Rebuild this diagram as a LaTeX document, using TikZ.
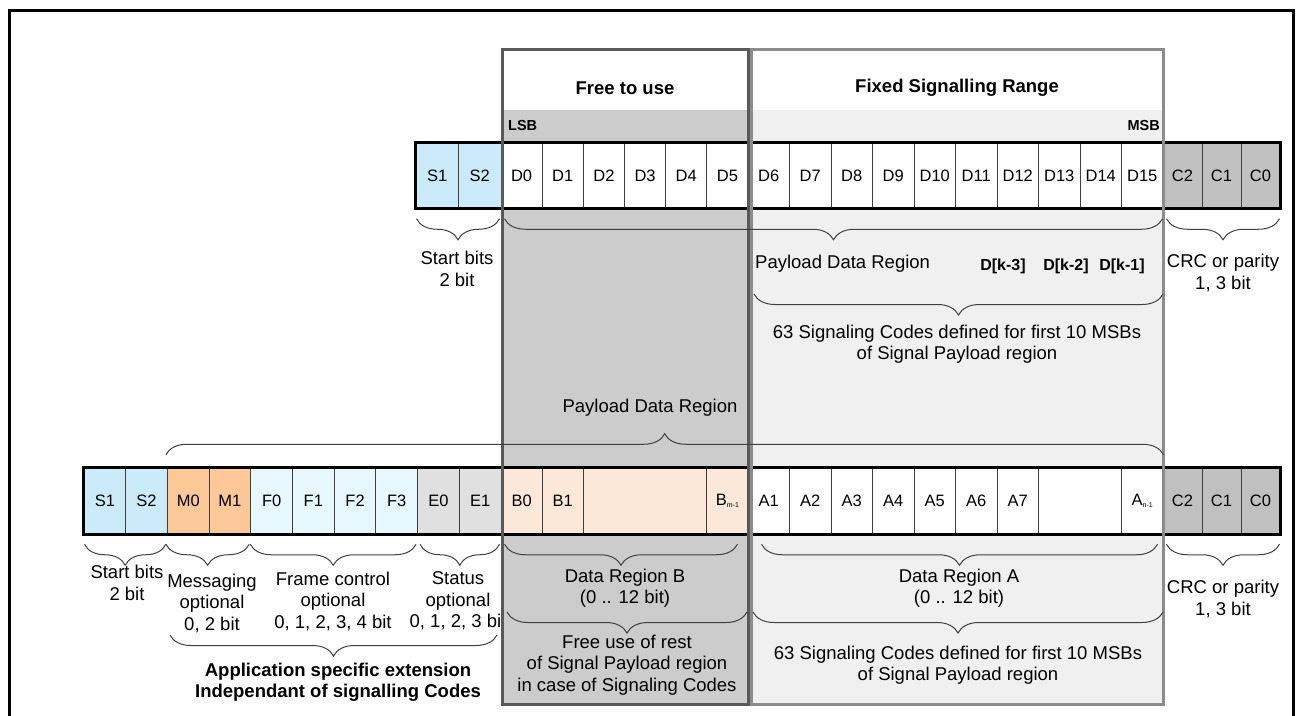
\documentclass[tikz,border=0pt]{standalone}
\usepackage{fontspec}
\setmainfont{Liberation Sans}
\usepackage{xcolor}
\usetikzlibrary{calc,decorations.pathreplacing}
\definecolor{startbg}{HTML}{CCEBFA}
\definecolor{msgbg}{HTML}{FCC897}
\definecolor{framebg}{HTML}{E6F7FD}
\definecolor{statbg}{HTML}{E0E0E0}
\definecolor{regbbg}{HTML}{FCE8D8}
\definecolor{crcbg}{HTML}{C0C0C0}
\definecolor{freebg}{HTML}{CCCCCC}
\definecolor{fixbg}{HTML}{F0F0F0}
\definecolor{freeline}{HTML}{595959}
\definecolor{fixline}{HTML}{8C8C8C}
\definecolor{cellline}{HTML}{404040}
\tikzset{
  cell/.style={draw=cellline, line width=1pt, minimum height=65.5pt, inner sep=0pt, font=\fontsize{16.5}{16.5}\selectfont},
  rowframe/.style={draw=black, line width=3pt},
  boxline/.style={line width=3pt},
  brc/.style={draw=cellline, line width=1pt, decorate, decoration={brace, amplitude=21pt, mirror}},
  brcup/.style={draw=cellline, line width=1pt, decorate, decoration={brace, amplitude=21pt}},
  lab/.style={font=\fontsize{18.5}{21.5}\selectfont, align=center, inner sep=0pt},
  labb/.style={lab, font=\fontsize{18.5}{21.5}\selectfont\bfseries},
  title/.style={font=\fontsize{18.5}{18.5}\selectfont\bfseries, inner sep=0pt},
  tag/.style={font=\fontsize{14.5}{14.5}\selectfont\bfseries, inner sep=0pt},
  ktag/.style={font=\fontsize{16}{16}\selectfont\bfseries, inner sep=0pt},
}
\newcommand{\subidx}[1]{\raisebox{-2pt}{\fontsize{7}{7}\selectfont #1}}

\begin{document}
\begin{tikzpicture}[x=1pt,y=-1pt]
  \useasboundingbox (0,0) rectangle (1300,715);
  \def\ya{175.5}
  \def\yb{501}

  % outer frame, open at the bottom
  \draw[line width=3pt] (9,716) -- (9,10) -- (1293,10) -- (1293,716);

  % status text, its end hidden by the free box
  \node[lab] (r2stattxt) at (458,601) {Status\\optional\\0, 1, 2, 3 bit};

  % the two ranges
  \fill[freebg] (502,110) rectangle (748,704);
  \fill[fixbg] (751,110) rectangle (1163,704);
  \node[title] (freettl) at (625,88) {Free to use};
  \node[title] (fixttl) at (957,88) {Fixed Signalling Range};
  \node[tag, anchor=west] (lsb) at (508,126) {LSB};
  \node[tag, anchor=east] (msb) at (1160,126) {MSB};

  % frame with signalling codes
  \foreach \n [count=\i from 0] in {S1,S2}
    \node[cell, fill=startbg, minimum width=42.5pt] (r1\n) at ({416+42.5*(\i+0.5)},\ya) {\n};
  \foreach \i in {0,...,5}
    \node[cell, fill=white, minimum width=41.17pt] (r1D\i) at ({501+41.17*(\i+0.5)},\ya) {D\i};
  \foreach \i in {6,...,15}
    \node[cell, fill=white, minimum width=41.5pt] (r1D\i) at ({748+41.5*(\i-5.5)},\ya) {D\i};
  \foreach \n [count=\i from 0] in {C2,C1,C0}
    \node[cell, fill=crcbg, minimum width=39pt] (r1\n) at ({1163+39*(\i+0.5)},\ya) {\n};
  \draw[rowframe] (r1S1.north west) rectangle (r1C0.south east);

  % frame with application extension
  \foreach \n/\c [count=\i from 0] in {S1/startbg,S2/startbg,M0/msgbg,M1/msgbg,F0/framebg,F1/framebg,F2/framebg,F3/framebg,E0/statbg,E1/statbg}
    \node[cell, fill=\c, minimum width=41.7pt] (r2\n) at ({84+41.7*(\i+0.5)},\yb) {\n};
  \node[cell, fill=regbbg, minimum width=41.17pt] (r2B0) at (521.6,\yb) {B0};
  \node[cell, fill=regbbg, minimum width=41.17pt] (r2B1) at (562.8,\yb) {B1};
  \node[cell, fill=regbbg, minimum width=123.5pt] (r2Bx) at (645.1,\yb) {};
  \node[cell, fill=regbbg, minimum width=41.17pt] (r2Bm) at (727.4,\yb) {B\subidx{m-1}};
  \foreach \i in {1,...,7}
    \node[cell, fill=white, minimum width=41.5pt] (r2A\i) at ({748+41.5*(\i-0.5)},\yb) {A\i};
  \node[cell, fill=white, minimum width=83pt] (r2Ax) at (1080,\yb) {};
  \node[cell, fill=white, minimum width=41.5pt] (r2An) at (1142.25,\yb) {A\subidx{n-1}};
  \foreach \n [count=\i from 0] in {C2,C1,C0}
    \node[cell, fill=crcbg, minimum width=39pt] (r2\n) at ({1163+39*(\i+0.5)},\yb) {\n};
  \draw[rowframe] (r2S1.north west) rectangle (r2C0.south east);

  % range borders over the frames
  \draw[boxline, draw=freeline] (502,49) rectangle (748,704);
  \draw[boxline, draw=fixline] (751,49) rectangle (1163,704);

  % braces of the upper frame
  \draw[brc] ([xshift=1pt,yshift=-10pt]r1S1.south west) -- ([xshift=-2pt,yshift=-10pt]r1S2.south east);
  \draw[brc] ([xshift=4pt,yshift=-10pt]r1D0.south west) -- ([xshift=-1pt,yshift=-10pt]r1D15.south east);
  \draw[brc] ([xshift=4pt,yshift=-10pt]r1C2.south west) -- ([xshift=-1pt,yshift=-10pt]r1C0.south east);
  \coordinate (sigL) at (754,294);
  \coordinate (sigR) at (1163,294);
  \draw[brc] (sigL) -- (sigR);

  \node[lab] (r1starttxt) at (457,269) {Start bits\\2 bit};
  \node[lab, anchor=west] (r1paytxt) at (755,264) {Payload Data Region};
  \node[ktag] (dk3) at (1003,266) {D[k-3]};
  \node[ktag] (dk2) at (1066,266) {D[k-2]};
  \node[ktag] (dk1) at (1122,266) {D[k-1]};
  \node[lab] (r1crctxt) at (1223,273) {CRC or parity\\1, 3 bit};
  \node[lab] (r1sigtxt) at (957,344) {63 Signaling Codes defined for first 10 MSBs\\of Signal Payload region};

  % payload brace above the lower frame
  \draw[brcup] ([xshift=-1pt,yshift=13pt]r2M0.north west) -- ([yshift=13pt]r2An.north east);
  \node[lab] (r2paytxt) at (650,408) {Payload Data Region};

  % braces of the lower frame
  \draw[brc] ([xshift=1pt,yshift=-10pt]r2S1.south west) -- ([xshift=-2pt,yshift=-10pt]r2S2.south east);
  \draw[brc] ([xshift=-1pt,yshift=-10pt]r2M0.south west) -- ([xshift=-2pt,yshift=-10pt]r2M1.south east);
  \draw[brc] ([xshift=0pt,yshift=-10pt]r2F0.south west) -- ([xshift=-2pt,yshift=-10pt]r2F3.south east);
  \draw[brc] ([xshift=3pt,yshift=-10pt]r2E0.south west) -- ([xshift=-2pt,yshift=-10pt]r2E1.south east);
  \draw[brc] ([xshift=4pt,yshift=-10pt]r2B0.south west) -- ([xshift=-11pt,yshift=-10pt]r2Bm.south east);
  \draw[brc] ([xshift=14pt,yshift=-10pt]r2A1.south west) -- ([xshift=-6pt,yshift=-10pt]r2An.south east);
  \draw[brc] ([xshift=4pt,yshift=-10pt]r2C2.south west) -- ([xshift=-1pt,yshift=-10pt]r2C0.south east);
  \coordinate (appL) at (170,635);
  \coordinate (appR) at (497,635);
  \coordinate (freeL) at (507,612);
  \coordinate (freeR) at (747,612);
  \coordinate (sigbL) at (753,612);
  \coordinate (sigbR) at (1163,612);
  \draw[brc] (appL) -- (appR);
  \draw[brc] (freeL) -- (freeR);
  \draw[brc] (sigbL) -- (sigbR);

  \node[lab] (r2starttxt) at (127,583) {Start bits\\2 bit};
  \node[lab] (r2msgtxt) at (212,603) {Messaging\\optional\\0, 2 bit};
  \node[lab] (r2frmtxt) at (333,601) {Frame control\\optional\\0, 1, 2, 3, 4 bit};
  \node[labb] (r2apptxt) at (338,682) {Application specific extension\\Independant of signalling Codes};
  \node[lab] (r2btxt) at (625,588) {Data Region B\\(0 .. 12 bit)};
  \node[lab] (r2freetxt) at (627,665) {Free use of rest\\of Signal Payload region\\in case of Signaling Codes};
  \node[lab] (r2atxt) at (959,588) {Data Region A\\(0 .. 12 bit)};
  \node[lab] (r2sigtxt) at (958,665) {63 Signaling Codes defined for first 10 MSBs\\of Signal Payload region};
  \node[lab] (r2crctxt) at (1223,599) {CRC or parity\\1, 3 bit};
\end{tikzpicture}
\end{document}
